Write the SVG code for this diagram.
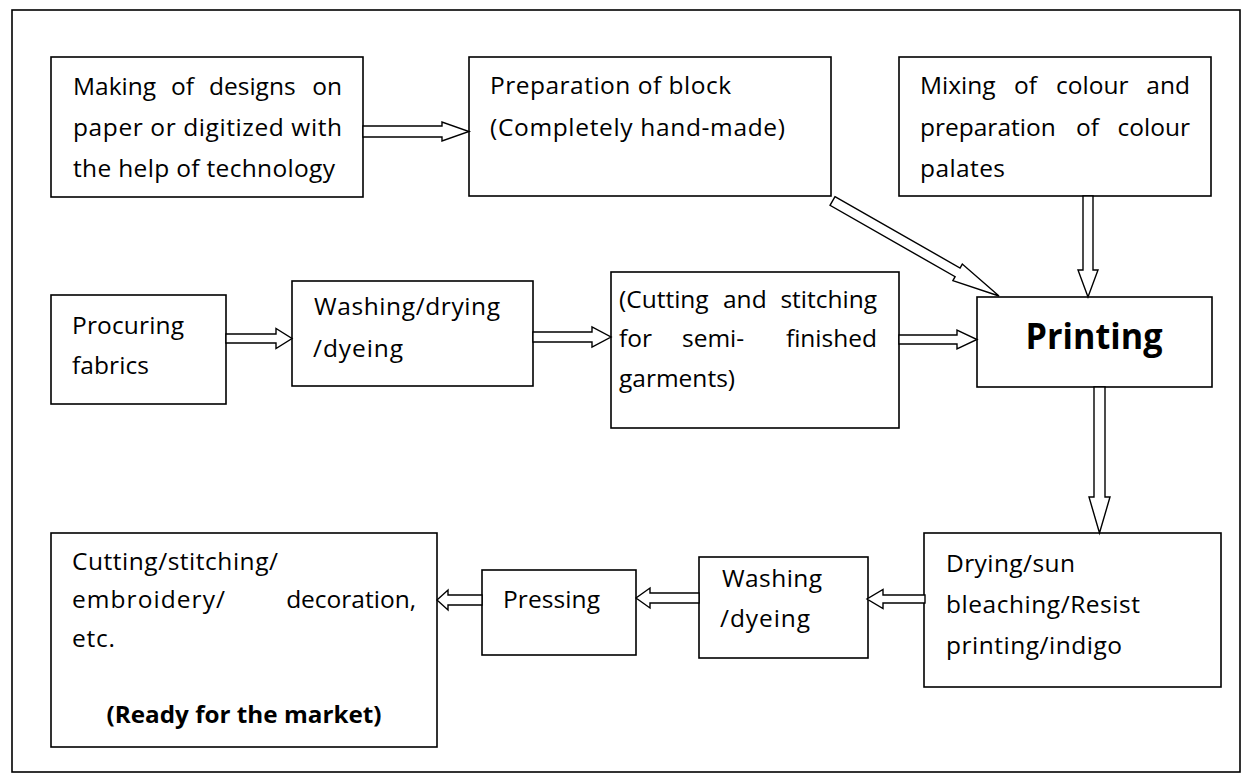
<svg xmlns="http://www.w3.org/2000/svg" width="1252" height="780" viewBox="0 0 1252 780">
  <style>
    .box { fill: #ffffff; stroke: #000000; stroke-width: 1.6; }
    .frame { fill: none; stroke: #000000; stroke-width: 1.6; }
    .arrow { fill: #ffffff; stroke: #000000; stroke-width: 1.4; stroke-linejoin: miter; }
    .t { font-family: "Open Sans", "Noto Sans", sans-serif; font-size: 24.5px; fill: #000000; }
    .b { font-family: "Open Sans", "Noto Sans", sans-serif; font-weight: bold; fill: #000000; }
    .e { text-anchor: end; }
  </style>

  <rect class="frame" x="12" y="10" width="1228" height="762"/>

  <!-- process steps (justified lines are set word by word) -->
  <g id="designs">
    <rect class="box" x="51" y="57" width="312" height="140"/>
    <text class="t" y="95"><tspan x="73">Making</tspan><tspan x="171">of</tspan><tspan x="209">designs</tspan></text>
    <text class="t e" x="342" y="95">on</text>
    <text class="t" x="73" y="136" textLength="269" lengthAdjust="spacing">paper or digitized with</text>
    <text class="t" x="73" y="177" textLength="262" lengthAdjust="spacing">the help of technology</text>
  </g>

  <g id="block">
    <rect class="box" x="469" y="57" width="362" height="139"/>
    <text class="t" x="490" y="94" textLength="241" lengthAdjust="spacing">Preparation of block</text>
    <text class="t" x="490" y="136" textLength="295" lengthAdjust="spacing">(Completely hand-made)</text>
  </g>

  <g id="colour">
    <rect class="box" x="899" y="57" width="312" height="139"/>
    <text class="t" y="94"><tspan x="920">Mixing</tspan><tspan x="1014">of</tspan><tspan x="1056">colour</tspan></text>
    <text class="t e" x="1190" y="94">and</text>
    <text class="t" y="136"><tspan x="920">preparation</tspan><tspan x="1076">of</tspan></text>
    <text class="t e" x="1190" y="136">colour</text>
    <text class="t" x="920" y="177" textLength="85" lengthAdjust="spacing">palates</text>
  </g>

  <g id="procuring">
    <rect class="box" x="51" y="295" width="175" height="109"/>
    <text class="t" x="72" y="334" textLength="112" lengthAdjust="spacing">Procuring</text>
    <text class="t" x="72" y="374" textLength="77" lengthAdjust="spacing">fabrics</text>
  </g>

  <g id="washing-drying">
    <rect class="box" x="292" y="281" width="241" height="105"/>
    <text class="t" x="314" y="315" textLength="186" lengthAdjust="spacing">Washing/drying</text>
    <text class="t" x="313" y="357" textLength="90" lengthAdjust="spacing">/dyeing</text>
  </g>

  <g id="cutting-semi">
    <rect class="box" x="611" y="272" width="288" height="156"/>
    <text class="t" y="308"><tspan x="619">(Cutting</tspan><tspan x="723">and</tspan></text>
    <text class="t e" x="877" y="308">stitching</text>
    <text class="t" y="347"><tspan x="619">for</tspan><tspan x="682">semi-</tspan></text>
    <text class="t e" x="877" y="347">finished</text>
    <text class="t" x="619" y="387">garments)</text>
  </g>

  <g id="printing">
    <rect class="box" x="977" y="297" width="235" height="90"/>
    <text class="b" x="1094" y="349" font-size="35" text-anchor="middle" textLength="137" lengthAdjust="spacingAndGlyphs">Printing</text>
  </g>

  <g id="drying">
    <rect class="box" x="924" y="533" width="297" height="154"/>
    <text class="t" x="946" y="572" textLength="129" lengthAdjust="spacing">Drying/sun</text>
    <text class="t" x="946" y="613" textLength="194" lengthAdjust="spacing">bleaching/Resist</text>
    <text class="t" x="946" y="654" textLength="176" lengthAdjust="spacing">printing/indigo</text>
  </g>

  <g id="washing-dyeing">
    <rect class="box" x="699" y="557" width="169" height="101"/>
    <text class="t" x="722" y="587" textLength="100" lengthAdjust="spacing">Washing</text>
    <text class="t" x="720" y="627" textLength="90" lengthAdjust="spacing">/dyeing</text>
  </g>

  <g id="pressing">
    <rect class="box" x="482" y="570" width="154" height="85"/>
    <text class="t" x="503" y="608" textLength="97" lengthAdjust="spacing">Pressing</text>
  </g>

  <g id="finishing">
    <rect class="box" x="51" y="533" width="386" height="214"/>
    <text class="t" x="72" y="570" textLength="206" lengthAdjust="spacing">Cutting/stitching/</text>
    <text class="t" x="72" y="608" textLength="153" lengthAdjust="spacing">embroidery/</text>
    <text class="t e" x="416" y="608">decoration,</text>
    <text class="t" x="72" y="647" textLength="43" lengthAdjust="spacing">etc.</text>
    <text class="b" x="244" y="723" font-size="23" text-anchor="middle" textLength="275" lengthAdjust="spacingAndGlyphs">(Ready for the market)</text>
  </g>

  <!-- hollow block arrows -->
  <g id="connectors">
    <polygon class="arrow" points="363,126 442,126 442,122 469,131.5 442,141 442,137 363,137"/>
    <polygon class="arrow" points="226,334 276,334 276,328.5 292,338.5 276,348.5 276,343 226,343"/>
    <polygon class="arrow" points="533,332 592,332 592,327 611,337 592,347 592,342 533,342"/>
    <polygon class="arrow" points="899,335 957,335 957,330 977,339.5 957,349 957,344 899,344"/>
    <polygon class="arrow" points="1083,196 1093,196 1093,270 1098,270 1088,297 1078,270 1083,270"/>
    <polygon class="arrow" points="1094,387 1105,387 1105,497 1110,497 1099.5,533 1089,497 1094,497"/>
    <polygon class="arrow" points="925,595 883,595 883,589.5 867,599 883,608.5 883,603 925,603"/>
    <polygon class="arrow" points="699,593 650,593 650,588 636,598 650,608 650,603 699,603"/>
    <polygon class="arrow" points="482,595 448,595 448,590 437,600 448,610 448,605 482,605"/>
    <polygon class="arrow" transform="translate(832.5,201) rotate(29.7)" points="0,-5 144,-5 144,-9.5 191.7,0 144,9.5 144,5 0,5"/>
  </g>
</svg>
